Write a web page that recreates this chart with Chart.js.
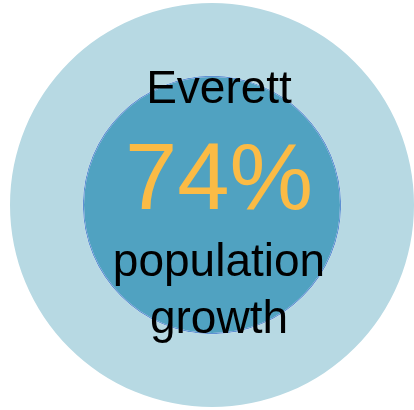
<!DOCTYPE html>
<html>
<head>
<meta charset="utf-8">
<script src="https://cdn.jsdelivr.net/npm/chart.js@4"></script>
<style>
  html, body { margin: 0; padding: 0; background: #fff; }
  #wrap { width: 414px; height: 410px; position: relative; }
</style>
</head>
<body>
<div id="wrap"><canvas id="growthChart"></canvas></div>
<script>
// full rings from outside in: the outer band, a thin edge, the inner disc
const ringLabels = ["Region", "Edge", "Everett"];
const ringValues = [100, 100, 100];
const cityName = "Everett";
const growthPct = 74;
const captionLines = ["population", "growth"];

const COLORS = {
  outer: "#b7d9e3",
  inner: "#50a2c1",
  innerEdge: "#5e90d2",
  pct: "#fbbb45",
  text: "#000000",
};

const FONT = '"Liberation Sans", Arial, sans-serif';

const centerText = {
  id: "centerText",
  afterDraw(chart) {
    const arc = chart.getDatasetMeta(0).data[0];
    if (!arc) return;
    const cx = arc.x + 7;
    const cy = arc.y;
    const ctx = chart.ctx;
    ctx.save();
    ctx.textAlign = "center";
    ctx.textBaseline = "alphabetic";
    ctx.fillStyle = COLORS.text;
    ctx.font = `46px ${FONT}`;
    ctx.fillText(cityName, cx, cy - 102);
    ctx.fillStyle = COLORS.pct;
    ctx.font = `94px ${FONT}`;
    ctx.fillText(`${growthPct}%`, cx, cy + 4);
    ctx.fillStyle = COLORS.text;
    ctx.font = `46px ${FONT}`;
    ctx.fillText(captionLines[0], cx, cy + 71);
    ctx.fillText(captionLines[1], cx, cy + 128);
    ctx.restore();
  },
};

new Chart(document.getElementById("growthChart"), {
  type: "doughnut",
  data: {
    labels: [cityName],
    datasets: [
      { label: ringLabels[0], data: [ringValues[0]], backgroundColor: COLORS.outer, weight: 72.8 },
      { label: ringLabels[1], data: [ringValues[1]], backgroundColor: COLORS.innerEdge, weight: 1.2 },
      { label: ringLabels[2], data: [ringValues[2]], backgroundColor: COLORS.inner, weight: 128 },
    ],
  },
  options: {
    responsive: true,
    maintainAspectRatio: false,
    animation: false,
    cutout: 0,
    borderWidth: 0,
    hoverOffset: 0,
    layout: { padding: { left: 10, right: 0, top: 3, bottom: 3 } },
    plugins: {
      legend: { display: false },
      tooltip: { enabled: false },
    },
  },
  plugins: [centerText],
});
</script>
</body>
</html>
